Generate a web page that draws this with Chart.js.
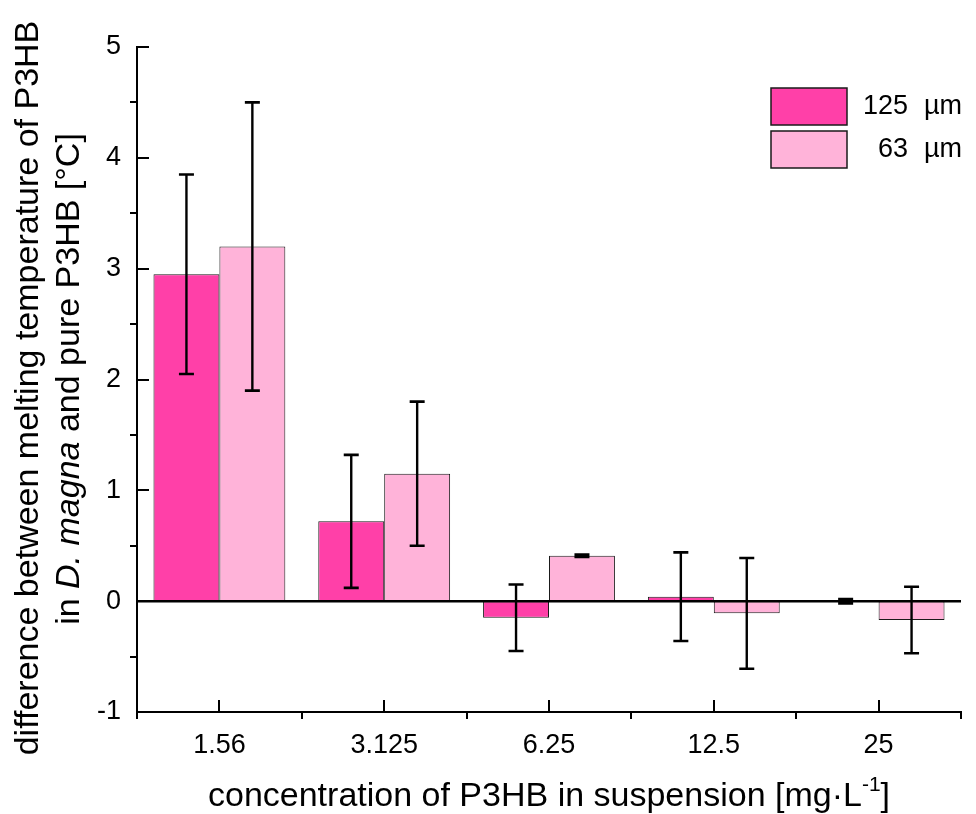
<!DOCTYPE html>
<html>
<head>
<meta charset="utf-8">
<title>P3HB melting temperature difference</title>
<script src="https://cdn.jsdelivr.net/npm/chart.js@4.4.0/dist/chart.umd.min.js"></script>
<style>
  html, body { margin: 0; padding: 0; background: #fff; }
  #chartBox { width: 976px; height: 814px; }
</style>
</head>
<body>
<div id="chartBox"><canvas id="meltChart" width="976" height="814"></canvas></div>
<script>
// P3HB concentrations (x categories)
const concentrations = ["1.56", "3.125", "6.25", "12.5", "25"];
const seriesNames = ["125 µm", "63 µm"];

// mean difference in melting temperature [°C]
const diff125 = [2.95, 0.72, -0.15, 0.04, 0.0];
const diff63 = [3.20, 1.15, 0.41, -0.11, -0.17];

// +/- error for each bar
const err125 = [0.90, 0.60, 0.30, 0.40, 0.02];
const err63 = [1.30, 0.65, 0.01, 0.50, 0.30];

// y axis range and ticks
const yMin = -1;
const yMax = 5;
const yStep = 1;
const yMinorStep = 0.5;

const FONT = "'Liberation Sans', Arial, sans-serif";
const INK = "#000";
const colors = ["#ff40a8", "#ffb3d9"];

/* --------------------------------------------------
   zero line + error bars on top of the bars
-------------------------------------------------- */
const errorBars = {
    id: "errorBars",
    afterDatasetsDraw(chart) {
        const { ctx, chartArea: a, scales: { y } } = chart;
        ctx.save();
        ctx.strokeStyle = INK;

        // baseline at 0
        const y0 = y.getPixelForValue(0);
        ctx.lineWidth = 2.5;
        ctx.beginPath();
        ctx.moveTo(a.left, y0);
        ctx.lineTo(a.right, y0);
        ctx.stroke();

        chart.data.datasets.forEach((ds, i) => {
            const meta = chart.getDatasetMeta(i);
            meta.data.forEach((bar, j) => {
                const v = ds.data[j];
                const e = ds.errors[j];
                const top = y.getPixelForValue(v + e);
                const bot = y.getPixelForValue(v - e);
                ctx.lineWidth = 2.4;
                ctx.beginPath();
                ctx.moveTo(bar.x, top);
                ctx.lineTo(bar.x, bot);
                ctx.stroke();
                ctx.lineWidth = 2.6;
                ctx.beginPath();
                ctx.moveTo(bar.x - 7.5, top);
                ctx.lineTo(bar.x + 7.5, top);
                ctx.moveTo(bar.x - 7.5, bot);
                ctx.lineTo(bar.x + 7.5, bot);
                ctx.stroke();
            });
        });
        ctx.restore();
    }
};

/* --------------------------------------------------
   tick marks: majors point in, minors point out
-------------------------------------------------- */
const axisTicks = {
    id: "axisTicks",
    afterDraw(chart) {
        const { ctx, chartArea: a, scales: { x, y } } = chart;
        ctx.save();
        ctx.strokeStyle = INK;
        ctx.lineWidth = 2;
        ctx.beginPath();

        for (let v = yMin; v <= yMax + 1e-9; v += yMinorStep) {
            const py = Math.round(y.getPixelForValue(v));
            if (Math.abs(v % yStep) < 1e-9) {
                ctx.moveTo(a.left, py);
                ctx.lineTo(a.left + 12, py);
            } else {
                ctx.moveTo(a.left - 7, py);
                ctx.lineTo(a.left, py);
            }
        }

        concentrations.forEach((c, i) => {
            const px = Math.round(x.getPixelForValue(i));
            ctx.moveTo(px, a.bottom);
            ctx.lineTo(px, a.bottom - 12);
        });
        for (let i = 0; i <= concentrations.length; i++) {
            const px = Math.round(x.getPixelForValue(i - 0.5));
            ctx.moveTo(px, a.bottom);
            ctx.lineTo(px, a.bottom + 7);
        }
        ctx.stroke();
        ctx.restore();
    }
};

/* --------------------------------------------------
   axis titles (italic species name, superscript unit)
-------------------------------------------------- */
const axisTitles = {
    id: "axisTitles",
    afterDraw(chart) {
        const { ctx, chartArea: a } = chart;
        const plain = `34px ${FONT}`;
        const italic = `italic 34px ${FONT}`;
        ctx.save();
        ctx.fillStyle = INK;
        ctx.textBaseline = "alphabetic";

        // y title, line 1
        ctx.save();
        ctx.translate(38, 388);
        ctx.rotate(-Math.PI / 2);
        ctx.font = plain;
        ctx.textAlign = "center";
        ctx.fillText("difference between melting temperature of P3HB", 0, 0);
        ctx.restore();

        // y title, line 2 with italic part
        const parts = [
            ["in ", plain],
            ["D. magna", italic],
            [" and pure P3HB [°C]", plain]
        ];
        let total = 0;
        parts.forEach(p => { ctx.font = p[1]; total += ctx.measureText(p[0]).width; });
        ctx.save();
        ctx.translate(79, 379);
        ctx.rotate(-Math.PI / 2);
        ctx.textAlign = "left";
        let cx = -total / 2;
        parts.forEach(p => {
            ctx.font = p[1];
            ctx.fillText(p[0], cx, 0);
            cx += ctx.measureText(p[0]).width;
        });
        ctx.restore();

        // x title
        const main = "concentration of P3HB in suspension [mg·L";
        const sup = "-1";
        const close = "]";
        const supFont = `21px ${FONT}`;
        ctx.font = plain;
        const wMain = ctx.measureText(main).width;
        const wClose = ctx.measureText(close).width;
        ctx.font = supFont;
        const wSup = ctx.measureText(sup).width;
        const midX = (a.left + a.right) / 2;
        let tx = midX - (wMain + wSup + wClose) / 2;
        const base = 806;
        ctx.textAlign = "left";
        ctx.font = plain;
        ctx.fillText(main, tx, base);
        tx += wMain;
        ctx.font = supFont;
        ctx.fillText(sup, tx, base - 15);
        tx += wSup;
        ctx.font = plain;
        ctx.fillText(close, tx, base);
        ctx.restore();
    }
};

/* --------------------------------------------------
   legend box in the upper right corner
-------------------------------------------------- */
const boxLegend = {
    id: "boxLegend",
    afterDraw(chart) {
        const { ctx } = chart;
        ctx.save();
        ctx.font = `27px ${FONT}`;
        ctx.textBaseline = "middle";
        chart.data.datasets.forEach((ds, i) => {
            const top = 88 + i * 43;
            ctx.fillStyle = ds.backgroundColor;
            ctx.fillRect(771, top, 76, 37);
            ctx.strokeStyle = "#1a1a1a";
            ctx.lineWidth = 1.5;
            ctx.strokeRect(771, top, 76, 37);

            const [num, unit] = ds.label.split(" ");
            ctx.fillStyle = INK;
            ctx.textAlign = "right";
            ctx.fillText(num, 908, top + 19);
            ctx.textAlign = "left";
            ctx.fillText(unit, 924, top + 19);
        });
        ctx.restore();
    }
};

const tickFont = { family: FONT, size: 27 };

new Chart(document.getElementById("meltChart"), {
    type: "bar",
    data: {
        labels: concentrations,
        datasets: [
            {
                label: seriesNames[0],
                data: diff125,
                errors: err125,
                backgroundColor: colors[0],
                borderColor: "#1a1a1a",
                borderWidth: 1,
                borderSkipped: false
            },
            {
                label: seriesNames[1],
                data: diff63,
                errors: err63,
                backgroundColor: colors[1],
                borderColor: "#1a1a1a",
                borderWidth: 1,
                borderSkipped: false
            }
        ]
    },
    options: {
        responsive: false,
        animation: false,
        layout: { padding: { top: 47, right: 15, bottom: 0, left: 0 } },
        datasets: { bar: { categoryPercentage: 0.8, barPercentage: 1.0 } },
        plugins: {
            legend: { display: false },
            tooltip: { enabled: false }
        },
        scales: {
            x: {
                grid: { display: false },
                border: { color: INK, width: 2 },
                ticks: { color: INK, font: tickFont, padding: 9, maxRotation: 0, autoSkip: false },
                afterFit(scale) { scale.height = 102; }
            },
            y: {
                min: yMin,
                max: yMax,
                grid: { display: false },
                border: { color: INK, width: 2 },
                ticks: { stepSize: yStep, color: INK, font: tickFont, padding: 8 },
                afterFit(scale) { scale.width = 137; }
            }
        }
    },
    plugins: [errorBars, axisTicks, axisTitles, boxLegend]
});
</script>
</body>
</html>
